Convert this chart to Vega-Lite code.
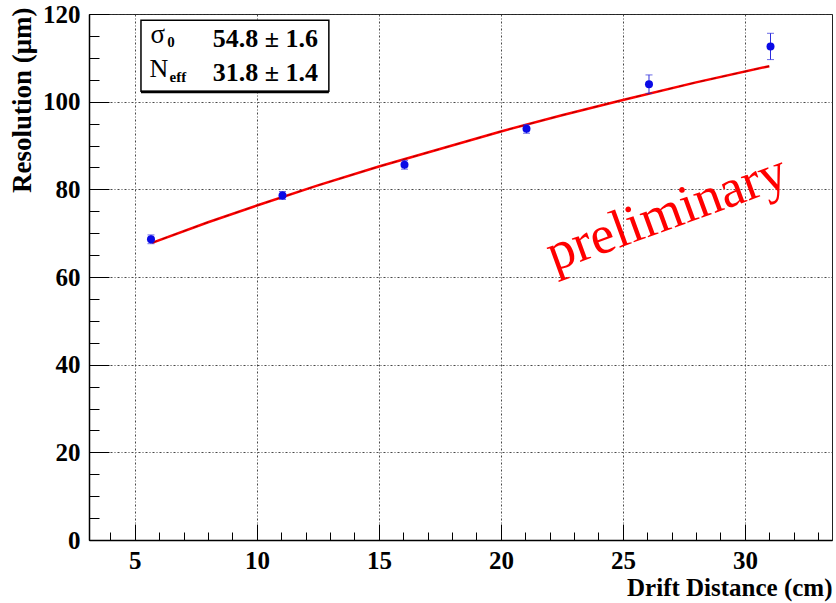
{
  "$schema": "https://vega.github.io/schema/vega-lite/v6.json",
  "width": 743,
  "height": 526,
  "autosize": {"type": "none"},
  "padding": {"left": 89, "top": 14, "right": 4, "bottom": 63},
  "background": "white",
  "config": {
    "view": {"stroke": "#222", "strokeWidth": 1},
    "font": "Liberation Serif"
  },
  "datasets": {
    "pts": [
      {"d": 5.66, "res": 68.6, "err": 1.0},
      {"d": 11.05, "res": 78.6, "err": 0.9},
      {"d": 16.05, "res": 85.6, "err": 1.0},
      {"d": 21.05, "res": 93.8, "err": 1.0},
      {"d": 26.07, "res": 104.0, "err": 2.1},
      {"d": 31.05, "res": 112.6, "err": 3.0}
    ],
    "fit": [
      {"d": 5.7, "res": 67.8},
      {"d": 8.0, "res": 72.5},
      {"d": 10.0, "res": 76.3},
      {"d": 12.5, "res": 80.9},
      {"d": 15.0, "res": 85.2},
      {"d": 17.5, "res": 89.2},
      {"d": 20.0, "res": 93.2},
      {"d": 22.5, "res": 96.9},
      {"d": 25.0, "res": 100.4},
      {"d": 28.0, "res": 104.4},
      {"d": 31.0, "res": 108.1}
    ]
  },
  "layer": [
    {
      "data": {"name": "fit"},
      "mark": {"type": "line", "color": "#ff0000", "strokeWidth": 2.5},
      "encoding": {
        "x": {
          "field": "d", "type": "quantitative", "title": "Drift Distance (cm)",
          "scale": {"domain": [3.12, 33.57], "nice": false, "zero": false},
          "axis": {
            "title": "Drift Distance (cm)",
            "values": [4,5,6,7,8,9,10,11,12,13,14,15,16,17,18,19,20,21,22,23,24,25,26,27,28,29,30,31,32,33],
            "tickCount": 500,
            "format": "d",
            "labelExpr": "datum.value % 5 === 0 ? datum.label : ''",
            "labelOverlap": false,
            "tickSize": {"condition": {"test": "datum.value % 5 === 0", "value": -16}, "value": -8},
            "tickColor": "#000", "tickWidth": 1,
            "labelPadding": 24,
            "labelFont": "Liberation Serif", "labelFontWeight": "bold", "labelFontSize": 25, "labelColor": "#000",
            "labelFlush": false,
            "domainColor": "#000", "domainWidth": 1.5,
            "grid": true,
            "gridOpacity": {"condition": {"test": "datum.value % 5 === 0", "value": 0.9}, "value": 0},
            "gridColor": "#333", "gridDash": [2, 2, 1, 2], "gridWidth": 1,
            "titleFont": "Liberation Serif", "titleFontWeight": "bold", "titleFontSize": 25, "titleColor": "#000",
            "titleAnchor": "end", "titleAlign": "right", "titleBaseline": "alphabetic", "titleY": 55
          }
        },
        "y": {
          "field": "res", "type": "quantitative", "title": "Resolution (μm)",
          "scale": {"domain": [0, 120], "nice": false, "zero": false},
          "axis": {
            "title": "Resolution (μm)",
            "values": [0,5,10,15,20,25,30,35,40,45,50,55,60,65,70,75,80,85,90,95,100,105,110,115,120],
            "tickCount": 500,
            "format": "d",
            "labelExpr": "datum.value % 20 === 0 ? datum.label : ''",
            "labelOverlap": false,
            "tickSize": {"condition": {"test": "datum.value % 20 === 0", "value": -20}, "value": -10},
            "tickColor": "#000", "tickWidth": 1,
            "labelPadding": 29,
            "labelFont": "Liberation Serif", "labelFontWeight": "bold", "labelFontSize": 25, "labelColor": "#000",
            "labelFlush": false,
            "domainColor": "#000", "domainWidth": 1.5,
            "grid": true,
            "gridOpacity": {"condition": {"test": "datum.value % 20 === 0", "value": 0.9}, "value": 0},
            "gridColor": "#333", "gridDash": [2, 2, 1, 2], "gridWidth": 1,
            "titleFont": "Liberation Serif", "titleFontWeight": "bold", "titleFontSize": 27, "titleColor": "#000",
            "titleAnchor": "end", "titleAlign": "right", "titleBaseline": "alphabetic", "titleX": -59, "titleY": -7, "titleAngle": -90
          }
        }
      }
    },
    {
      "data": {"name": "fit"},
      "mark": {"type": "line", "color": "#500", "strokeWidth": 1, "strokeDash": [5, 6], "opacity": 0.55},
      "encoding": {
        "x": {"field": "d", "type": "quantitative", "title": "Drift Distance (cm)"},
        "y": {"field": "res", "type": "quantitative", "title": "Resolution (μm)"}
      }
    },
    {
      "data": {"name": "pts"},
      "mark": {"type": "errorbar", "color": "#2b2bdc", "ticks": {"size": 7, "thickness": 1}, "rule": {"strokeWidth": 1}},
      "encoding": {
        "x": {"field": "d", "type": "quantitative", "title": "Drift Distance (cm)"},
        "y": {"field": "res", "type": "quantitative", "title": "Resolution (μm)"},
        "yError": {"field": "err"}
      }
    },
    {
      "data": {"name": "pts"},
      "mark": {"type": "circle", "color": "#0a0ae6", "size": 64, "opacity": 1},
      "encoding": {
        "x": {"field": "d", "type": "quantitative", "title": "Drift Distance (cm)"},
        "y": {"field": "res", "type": "quantitative", "title": "Resolution (μm)"}
      }
    },
    {
      "data": {"values": [{}]},
      "mark": {"type": "rect", "fill": "white", "stroke": "#000", "strokeWidth": 1.5},
      "encoding": {
        "x": {"datum": 5.25}, "x2": {"datum": 12.95},
        "y": {"datum": 118.6}, "y2": {"datum": 102.4}
      }
    },
    {
      "data": {"values": [{}]},
      "mark": {"type": "rule", "color": "#000", "strokeWidth": 2.5},
      "encoding": {
        "x": {"datum": 5.25}, "x2": {"datum": 12.95},
        "y": {"datum": 102.2}
      }
    },
    {
      "data": {"values": [{}]},
      "mark": {"type": "text", "text": "σ", "font": "Liberation Serif", "fontSize": 27, "align": "left", "baseline": "alphabetic", "color": "#000"},
      "encoding": {"x": {"datum": 5.64}, "y": {"datum": 113.4}}
    },
    {
      "data": {"values": [{}]},
      "mark": {"type": "text", "text": "0", "font": "Liberation Serif", "fontSize": 15, "fontWeight": "bold", "align": "left", "baseline": "alphabetic", "color": "#000"},
      "encoding": {"x": {"datum": 6.33}, "y": {"datum": 112.4}}
    },
    {
      "data": {"values": [{}]},
      "mark": {"type": "text", "text": "N", "font": "Liberation Serif", "fontSize": 26, "align": "left", "baseline": "alphabetic", "color": "#000"},
      "encoding": {"x": {"datum": 5.6}, "y": {"datum": 105.6}}
    },
    {
      "data": {"values": [{}]},
      "mark": {"type": "text", "text": "eff", "font": "Liberation Serif", "fontSize": 15, "fontWeight": "bold", "align": "left", "baseline": "alphabetic", "color": "#000"},
      "encoding": {"x": {"datum": 6.42}, "y": {"datum": 104.6}}
    },
    {
      "data": {"values": [{}]},
      "mark": {"type": "text", "text": "54.8 ± 1.6", "font": "Liberation Serif", "fontSize": 26, "fontWeight": "bold", "align": "right", "baseline": "alphabetic", "color": "#000"},
      "encoding": {"x": {"datum": 12.51}, "y": {"datum": 112.5}}
    },
    {
      "data": {"values": [{}]},
      "mark": {"type": "text", "text": "31.8 ± 1.4", "font": "Liberation Serif", "fontSize": 26, "fontWeight": "bold", "align": "right", "baseline": "alphabetic", "color": "#000"},
      "encoding": {"x": {"datum": 12.51}, "y": {"datum": 104.7}}
    },
    {
      "data": {"values": [{}]},
      "mark": {"type": "text", "text": "preliminary", "font": "Liberation Serif", "fontSize": 54, "angle": -20, "align": "center", "baseline": "middle", "color": "#ff0000"},
      "encoding": {"x": {"datum": 26.8}, "y": {"datum": 74.5}}
    }
  ]
}
